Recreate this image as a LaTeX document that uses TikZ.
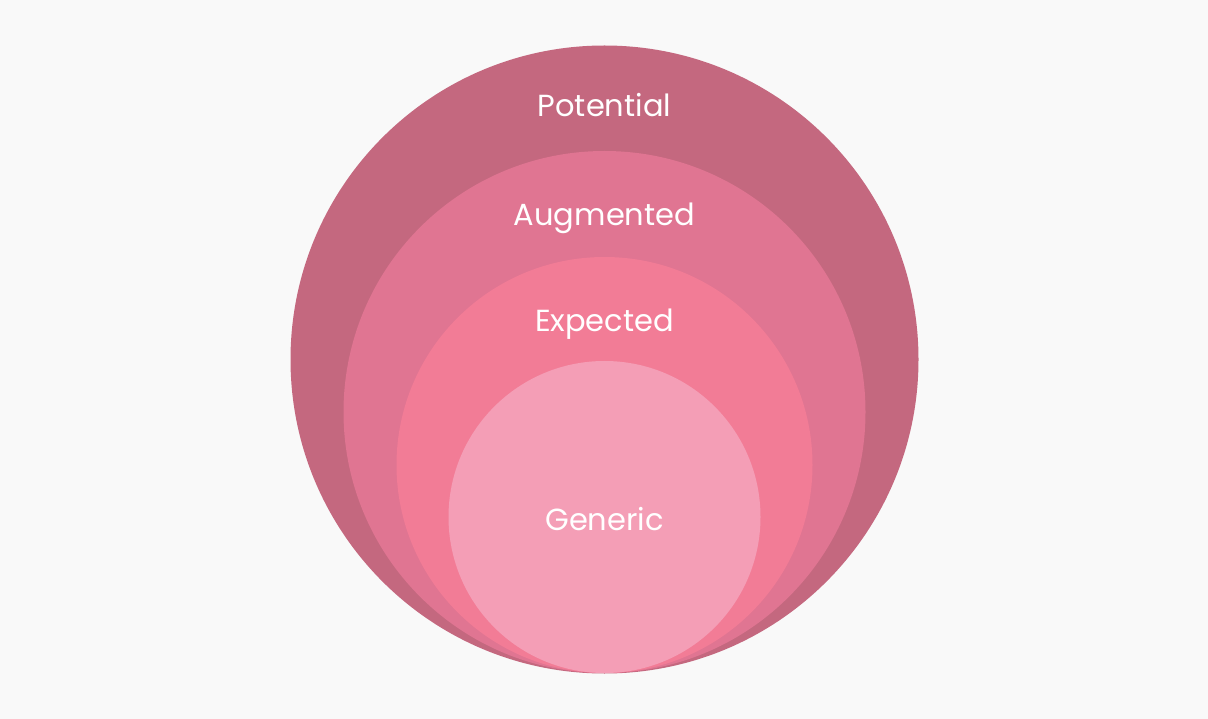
\documentclass[tikz,border=0pt]{standalone}
\usepackage{fontspec}
\setmainfont{Poppins}
\definecolor{bgc}{HTML}{F9F9F9}
\definecolor{cpot}{HTML}{C4687F}
\definecolor{caug}{HTML}{E07592}
\definecolor{cexp}{HTML}{F27C96}
\definecolor{cgen}{HTML}{F49EB6}
\begin{document}
\begin{tikzpicture}[x=1pt,y=-1pt,
  ring/.style={circle,inner sep=0pt,draw=none},
  lbl/.style={text=white,font=\fontsize{30.5}{33}\selectfont,anchor=base}]
\fill[bgc] (0,0) rectangle (1208,719);
\useasboundingbox (0,0) rectangle (1208,719);
\node[ring,fill=cpot,minimum size=628pt] (pot) at (604.5,359.5) {};
\node[ring,fill=caug,minimum size=522pt] (aug) at (604.5,412) {};
\node[ring,fill=cexp,minimum size=416pt] (exp) at (604.5,465) {};
\node[ring,fill=cgen,minimum size=312pt] (gen) at (604.5,517) {};
\node[lbl] (tpot) at (604.5,117) {Potential};
\node[lbl] (taug) at (604.5,226) {Augmented};
\node[lbl] (texp) at (604.5,332) {Expected};
\node[lbl] (tgen) at (604.5,530) {Generic};
\end{tikzpicture}
\end{document}
